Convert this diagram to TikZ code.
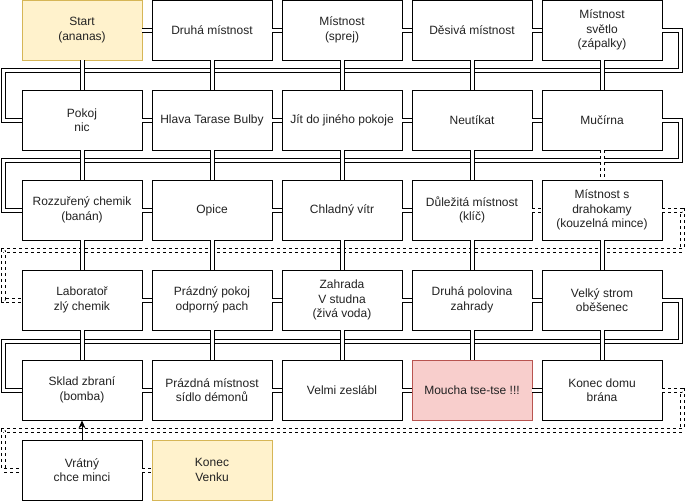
\documentclass[tikz,border=0pt]{standalone}
\usepackage{fontspec}
\setmainfont{Liberation Sans}
\usetikzlibrary{arrows.meta}
\definecolor{yfill}{HTML}{FFF2CC}
\definecolor{ydraw}{HTML}{D6B656}
\definecolor{rfill}{HTML}{F8CECC}
\definecolor{rdraw}{HTML}{B85450}
\definecolor{txt}{HTML}{222222}
\tikzset{
  room/.style={draw=black, line width=0.8pt, fill=white, minimum width=120pt, minimum height=60pt,
    align=center, inner sep=2pt, text=txt, font=\fontsize{12}{14.5}\selectfont},
  yroom/.style={room, fill=yfill, draw=ydraw},
  rroom/.style={room, fill=rfill, draw=rdraw},
  link/.style={draw=black, line width=5pt, line join=miter,
    postaction={draw=white, line width=3pt}},
  dlink/.style={draw=black, line width=5pt, line join=miter, dash pattern=on 3pt off 3pt,
    postaction={draw=white, line width=3pt, dash pattern=on 3pt off 3pt}},
  arr/.style={draw=black, line width=0.9pt, -{Stealth[length=8pt,width=7pt]}}
}
\begin{document}
\begin{tikzpicture}[x=1pt,y=-1pt]
\useasboundingbox (0,0) rectangle (685,501);
% nodes
\node[yroom] (r11) at (82,30) {Start\\(ananas)};
\node[room] (r12) at (212,30) {Druhá místnost};
\node[room] (r13) at (342,30) {Místnost\\(sprej)};
\node[room] (r14) at (472,30) {Děsivá místnost};
\node[room] (r15) at (602,30) {Místnost\\světlo\\(zápalky)};
\node[room] (r21) at (82,120) {Pokoj\\nic};
\node[room] (r22) at (212,120) {Hlava Tarase Bulby};
\node[room] (r23) at (342,120) {Jít do jiného pokoje};
\node[room] (r24) at (472,120) {Neutíkat};
\node[room] (r25) at (602,120) {Mučírna};
\node[room] (r31) at (82,210) {Rozzuřený chemik\\(banán)};
\node[room] (r32) at (212,210) {Opice};
\node[room] (r33) at (342,210) {Chladný vítr};
\node[room] (r34) at (472,210) {Důležitá místnost\\(klíč)};
\node[room] (r35) at (602,210) {Místnost s\\drahokamy\\(kouzelná mince)};
\node[room] (r41) at (82,300) {Laboratoř\\zlý chemik};
\node[room] (r42) at (212,300) {Prázdný pokoj\\odporný pach};
\node[room] (r43) at (342,300) {Zahrada\\V studna\\(živá voda)};
\node[room] (r44) at (472,300) {Druhá polovina\\zahrady};
\node[room] (r45) at (602,300) {Velký strom\\oběšenec};
\node[room] (r51) at (82,390) {Sklad zbraní\\(bomba)};
\node[room] (r52) at (212,390) {Prázdná místnost\\sídlo démonů};
\node[room] (r53) at (342,390) {Velmi zeslábl};
\node[rroom] (r54) at (472,390) {Moucha tse-tse !!!};
\node[room] (r55) at (602,390) {Konec domu\\brána};
\node[room] (r61) at (82,470) {Vrátný\\chce minci};
\node[yroom] (r62) at (212,470) {Konec\\Venku};
% snake corner coordinates
\coordinate (a1) at (680,70);  \coordinate (b1) at (3,70);
\coordinate (a2) at (680,160); \coordinate (b2) at (3,160);
\coordinate (a3) at (682,250); \coordinate (b3) at (3,250);
\coordinate (a4) at (680,341); \coordinate (b4) at (3,341);
\coordinate (a5) at (682,430); \coordinate (b5) at (3,430);
% snakes
\draw[link] (r15.east) -| (a1) -- (b1) |- (r21.west);
\draw[link] (r25.east) -| (a2) -- (b2) |- (r31.west);
\draw[dlink] (r35.east) -| (a3) -- (b3) |- (r41.west);
\draw[link] (r45.east) -| (a4) -- (b4) |- (r51.west);
\draw[dlink] (r55.east) -| (a5) -- (b5) |- (r61.west);
% horizontal links
\foreach \r in {1,2,4,5}{
  \draw[link] (r\r1) -- (r\r2);
  \draw[link] (r\r2) -- (r\r3);
  \draw[link] (r\r3) -- (r\r4);
  \draw[link] (r\r4) -- (r\r5);
}
\draw[link] (r31) -- (r32);
\draw[link] (r32) -- (r33);
\draw[link] (r33) -- (r34);
\draw[dlink] (r34) -- (r35);
\draw[dlink] (r61) -- (r62);
% vertical links
\foreach \c in {1,2,3,4,5}{
  \draw[link] (r1\c) -- (r2\c);
  \draw[link] (r3\c) -- (r4\c);
  \draw[link] (r4\c) -- (r5\c);
}
\foreach \c in {1,2,3,4}{
  \draw[link] (r2\c) -- (r3\c);
}
\draw[dlink] (r25) -- (r35);
\draw[dlink] (r35) -- (r45);
\draw[arr] (r61) -- (r51);
\end{tikzpicture}
\end{document}
